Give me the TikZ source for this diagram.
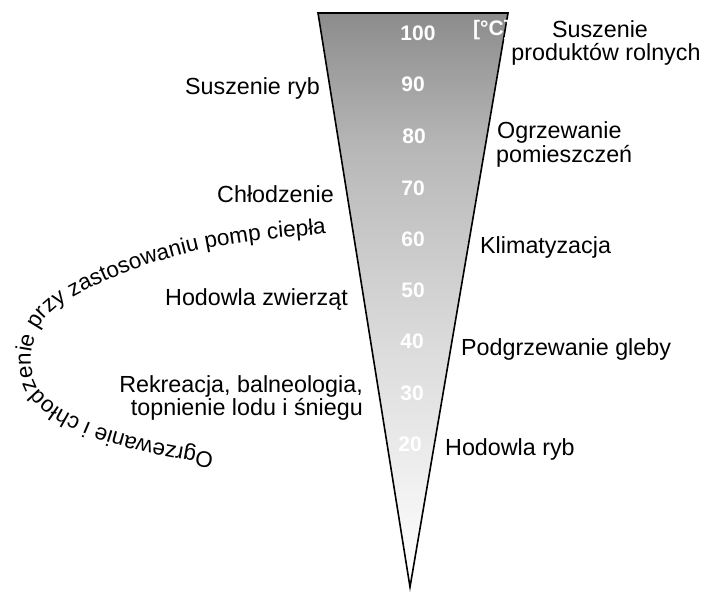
\documentclass[tikz,border=0pt]{standalone}
\usepackage{fontspec}
\setmainfont{Liberation Sans}
\usetikzlibrary{decorations.text}

% temperature wedge: dark grey at 100 degC fading to white at the tip
\pgfdeclareverticalshading{tempgrad}{100bp}{%
  color(0bp)=(white); color(25bp)=(white); color(30bp)=(black!3);
  color(37bp)=(black!8); color(46bp)=(black!14); color(55bp)=(black!21);
  color(63bp)=(black!28); color(75bp)=(black!45); color(100bp)=(black!45)}

\begin{document}
\begin{tikzpicture}[x=1pt,y=-1pt,
  lbl/.style={font=\fontsize{23.3}{24}\selectfont, inner sep=0pt},
  lblL/.style={lbl, anchor=base east},
  lblR/.style={lbl, anchor=base west},
  lblC/.style={lbl, anchor=base},
  deg/.style={text=white, font=\bfseries\fontsize{21}{21}\selectfont, inner sep=0pt}]
\useasboundingbox (0,0) rectangle (701,595);

% the wedge
\coordinate (tl) at (318,13);
\coordinate (tr) at (508,13);
\coordinate (tip) at (410,587);
\shade[shading=tempgrad] (tl) -- (tr) -- (tip) -- cycle;
\draw[line width=1.6pt, line join=miter] (tl) -- (tr) -- (tip) -- cycle;

% temperature scale
\node[deg] (t100) at (418,33) {100};
\node[deg] (unit) at (492,30) {[°C]};
\node[deg] (t90) at (413,84) {90};
\node[deg] (t80) at (414,136) {80};
\node[deg] (t70) at (413,188) {70};
\node[deg] (t60) at (413,239) {60};
\node[deg] (t50) at (413,290) {50};
\node[deg] (t40) at (412,341) {40};
\node[deg] (t30) at (412,393) {30};
\node[deg] (t20) at (410,444) {20};

% applications, right side
\node[lblC] (sus1) at (600,37) {Suszenie};
\node[lblC] (sus2) at (606,60) {produktów rolnych};
\node[lblR] (ogr1) at (497,138) {Ogrzewanie};
\node[lblR] (ogr2) at (496,162) {pomieszczeń};
\node[lblR] (klim) at (480,253) {Klimatyzacja};
\node[lblR] (podg) at (461,355) {Podgrzewanie gleby};
\node[lblR] (hryb) at (445,455) {Hodowla ryb};

% applications, left side
\node[lblL] (sryb) at (320,94) {Suszenie ryb};
\node[lblL] (chl) at (334,202) {Chłodzenie};
\node[lblL] (hzw) at (348,305) {Hodowla zwierząt};
\node[lblL] (rek1) at (363,392) {Rekreacja, balneologia,};
\node[lblL] (rek2) at (363,415) {topnienie lodu i śniegu};

% heat pump range, written along a curve
\path[decorate, decoration={text along path, text align=left,
  text={|\fontsize{22.5}{22.5}\selectfont|Ogrzewanie i chłodzenie przy zastosowaniu pomp ciepła}}]
  plot[smooth] coordinates {(214,453) (150,441) (100,427) (60,408) (36,385)
    (31,355) (40,325) (60,305) (90,288) (140,267) (200,250) (260,240)
    (325,234) (360,231)};
\end{tikzpicture}
\end{document}
